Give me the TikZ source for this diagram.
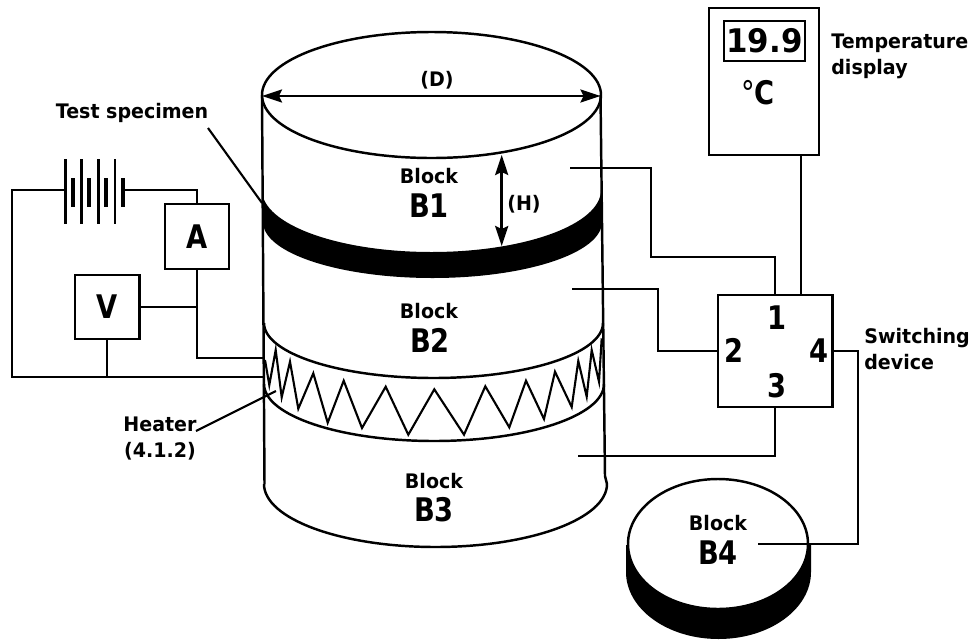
\documentclass[tikz,border=0pt]{standalone}
\usepackage{fontspec}
\setmainfont{DejaVu Sans}[FakeStretch=0.95]
\newfontfamily\namefont{DejaVu Sans}[FakeStretch=0.84]
\usetikzlibrary{arrows.meta}

\tikzset{
	wire/.style = {line width=1.2pt},
	thinwire/.style = {line width=1.0pt},
	outline/.style = {line width=1.4pt},
	box/.style = {draw, line width=1.35pt, inner sep=0pt, outer sep=0pt},
	small/.style = {font=\fontsize{11.4}{14.6}\selectfont\bfseries, inner sep=0pt},
	big/.style = {font=\namefont\fontsize{18.5}{20}\selectfont\bfseries, inner sep=0pt},
	dim/.style = {<->, line width=1.4pt, >={Stealth[length=4mm, width=2.6mm, inset=0.6mm]}, shorten <=0pt, shorten >=0pt}
}

\begin{document}
\begin{tikzpicture}[x=0.02cm, y=0.02cm]
	\useasboundingbox (0,0) rectangle (974,-640);

	% blocks B1 to B3
	\draw [outline] (262,-95) -- (264.5,-484);
	\draw [outline] (600.5,-95) -- (605,-476) -- (607,-484);
	\fill (262,-190) arc [start angle=180, end angle=360, x radius=169.5, y radius=62] -- (602,-222)
		arc [start angle=360, end angle=180, x radius=169.5, y radius=56] -- cycle;
	\draw [outline] (431.5,-95) ellipse [x radius=169.5, y radius=63];
	\draw [outline] (264,-323) arc [start angle=180, end angle=360, x radius=169.5, y radius=55];
	\draw [outline] (264,-384) arc [start angle=180, end angle=360, x radius=170, y radius=57];
	\draw [outline] (264,-484) arc [start angle=180, end angle=360, x radius=171.5, y radius=63];

	% heater
	\draw [wire] (265,-360) -- (269.3,-385) -- (275.7,-350) -- (281.7,-397.3) -- (290,-361.7)
		-- (298.3,-408.7) -- (313.3,-373.3) -- (327.7,-422.7) -- (343.7,-380.7) -- (362,-428)
		-- (385.7,-386.7) -- (408.3,-434.7) -- (434.3,-389.3) -- (464,-434.7) -- (485.3,-386.3)
		-- (509.3,-427.3) -- (526,-380.7) -- (544,-419) -- (555,-371.7) -- (571.7,-407)
		-- (578.3,-361) -- (586.7,-396.7) -- (591.7,-350) -- (599,-381.7) -- (601.7,-338.3);

	% block B4
	\fill (626,-545) -- (626,-572) arc [start angle=180, end angle=360, x radius=92.5, y radius=67]
		-- (811,-545) -- cycle;
	\draw [outline, fill=white] (718,-544) ellipse [x radius=90, y radius=65];

	% dimensions
	\coordinate (dleft) at (262,-96);
	\coordinate (dright) at (600.5,-96);
	\coordinate (htop) at (501.7,-155);
	\coordinate (hbot) at (501.7,-246);
	\draw [dim] (dleft)--(dright);
	\draw [dim] (htop)--(hbot);
	\node [small] (dlabel) at (437,-80) {(D)};
	\node [small] (hlabel) at (524,-204) {(H)};

	% block names
	\node [small] (blocka) at (429,-176) {Block};
	\node [big] (namea) at (429,-206) {B1};
	\node [small] (blockb) at (429,-311) {Block};
	\node [big] (nameb) at (430,-340) {B2};
	\node [small] (blockc) at (434,-481) {Block};
	\node [big] (namec) at (434,-510) {B3};
	\node [small] (blockd) at (718,-523) {Block};
	\node [big] (named) at (718,-553) {B4};

	% meters
	\node [box, big, minimum size=1.29cm] (A) at (197,-236.5) {A};
	\node [box, big, minimum size=1.29cm] (V) at (107.3,-307) {V};
	\coordinate (join) at (197,-307);
	\coordinate (heatin) at (264,-358);
	\coordinate (heatout) at (263,-377);
	\coordinate (corner) at (12,-190);
	\coordinate (tap) at (107.3,-377);

	% battery
	\coordinate (batl) at (65.7,-190);
	\coordinate (batr) at (123,-190);
	\foreach \x in {65.7,81.7,98.3,115}
		\draw [line width=1.7pt] (\x,-159) -- (\x,-224);
	\foreach \x in {73,89.3,105.7,123}
		\draw [line width=2.2pt] (\x,-178) -- (\x,-207);

	\draw [wire] (batl)--(corner)--(corner |- tap)--(heatout);
	\draw [wire] (batr)-|(A.north);
	\draw [wire] (A.south)--(join)|-(heatin);
	\draw [wire] (V.east)--(join);
	\draw [wire] (V.south)--(tap);

	% labels with leaders
	\node [small] (specimen) at (132,-113) {Test specimen};
	\node [small, align=center] (heater) at (160,-438.5) {Heater\\(4.1.2)};
	\coordinate (specend) at (262,-203);
	\coordinate (specstart) at (208,-128);
	\coordinate (heatstart) at (196,-431);
	\coordinate (heatend) at (276,-391);
	\draw [wire] (specstart)--(specend);
	\draw [wire] (heatstart)--(heatend);

	% temperature display
	\node [box, minimum width=2.19cm, minimum height=2.94cm] (disp) at (764,-81.5) {};
	\node [box, line width=1.1pt, font=\fontsize{18.5}{20}\selectfont\bfseries, minimum width=1.62cm, minimum height=0.8cm] (reading) at (764.5,-41) {19.9};
	\node [big] (unit) at (758,-93) {{\mdseries °}C};
	\node [small, anchor=west, align=left] (displabel) at (831,-56.5) {Temperature\\display};

	% switching device
	\node [box, minimum width=2.29cm, minimum height=2.24cm] (sw) at (775.25,-351) {};
	\node [big] (one) at (777,-318) {1};
	\node [big] (two) at (734,-350) {2};
	\node [big] (three) at (777,-386) {3};
	\node [big] (four) at (819,-351) {4};
	\node [small, anchor=west, align=left] (swlabel) at (864,-349) {Switching\\device};

	% connections to the switching device
	\coordinate (enda) at (570,-168);
	\coordinate (benda) at (651,-257);
	\coordinate (endb) at (572,-289);
	\coordinate (bendb) at (658,-351);
	\coordinate (endc) at (578,-456);
	\coordinate (endd) at (758,-544);
	\coordinate (bendd) at (858,-351);
	\coordinate (swtop) at (800.7,-295);
	\draw [thinwire] (swtop |- disp.south)--(swtop);
	\draw [thinwire] (enda)-|(benda)-|(sw.north);
	\draw [thinwire] (endb)-|(bendb)--(sw.west);
	\draw [thinwire] (sw.south)|-(endc);
	\draw [thinwire] (sw.east)--(bendd)|-(endd);
\end{tikzpicture}
\end{document}
